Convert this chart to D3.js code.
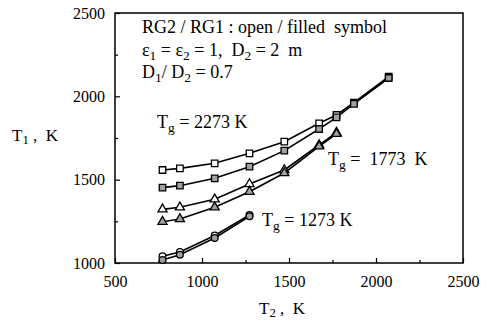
<!DOCTYPE html>
<html>
<head>
<meta charset="utf-8">
<script src="https://cdn.jsdelivr.net/npm/d3@7"></script>
<style>
  body { margin: 0; background: #fff; }
  svg { display: block; font-family: "Liberation Serif", "DejaVu Serif", serif; }
  svg text { white-space: pre; }
</style>
</head>
<body>
<svg id="chart" width="489" height="324"></svg>
<script>
// T2 values (K)
const t2 = [773, 873, 1073, 1273, 1473, 1673, 1773, 1873, 2073];

// T1 values (K) for each Tg, open = RG2, filled = RG1
const tg2273Open   = [1558, 1568, 1598, 1658, 1728, 1838, 1888, 1962, 2118];
const tg2273Filled = [1452, 1464, 1508, 1578, 1674, 1804, 1874, 1955, 2110];
const tg1773Open   = [1322, 1334, 1382, 1474, 1558, 1708, 1782];
const tg1773Filled = [1248, 1264, 1334, 1428, 1540, 1700, 1775];
const tg1273Open   = [1040, 1066, 1165, 1288];
const tg1273Filled = [1018, 1050, 1150, 1280];

const xTicks = [500, 1000, 1500, 2000, 2500];
const yTicks = [1000, 1500, 2000, 2500];

const svg = d3.select("#chart");

const x = d3.scaleLinear().domain([500, 2500]).range([115, 463]);
const y = d3.scaleLinear().domain([1000, 2500]).range([263, 13]);

// frame
svg.append("rect")
  .attr("x", x(500)).attr("y", y(2500))
  .attr("width", x(2500) - x(500))
  .attr("height", y(1000) - y(2500))
  .attr("fill", "none")
  .attr("stroke", "#000")
  .attr("stroke-width", 1.5);

// ticks (inward) + labels
const xAxis = d3.axisBottom(x).tickValues(d3.range(500, 2501, 250))
  .tickSize(-5).tickFormat(d => xTicks.includes(d) ? d : "");
const gx = svg.append("g")
  .attr("transform", `translate(0,${y(1000)})`)
  .call(xAxis);
gx.select(".domain").remove();
gx.selectAll(".tick line").attr("stroke", "#000").attr("stroke-width", 1.2)
  .attr("y2", d => xTicks.includes(d) ? -5 : -3);
gx.selectAll(".tick text").attr("y", 13).attr("dy", "0.71em")
  .style("font-size", "16px").style("font-family", "Liberation Serif").attr("fill", "#000");

const yAxis = d3.axisLeft(y).tickValues(d3.range(1000, 2501, 250))
  .tickSize(-5).tickFormat(d => yTicks.includes(d) ? d : "");
const gy = svg.append("g")
  .attr("transform", `translate(${x(500)},0)`)
  .call(yAxis);
gy.select(".domain").remove();
gy.selectAll(".tick line").attr("stroke", "#000").attr("stroke-width", 1.2)
  .attr("x2", d => yTicks.includes(d) ? 5 : 3);
gy.selectAll(".tick text").attr("x", -10)
  .style("font-size", "16px").style("font-family", "Liberation Serif").attr("fill", "#000");

// series
const series = [
  { vals: tg2273Open,   shape: "square",   filled: false },
  { vals: tg2273Filled, shape: "square",   filled: true },
  { vals: tg1773Open,   shape: "triangle", filled: false },
  { vals: tg1773Filled, shape: "triangle", filled: true },
  { vals: tg1273Open,   shape: "circle",   filled: false },
  { vals: tg1273Filled, shape: "circle",   filled: true }
];

const line = d3.line().x(d => x(d.t2)).y(d => y(d.t1));
const symbols = {
  square: d3.symbol().type(d3.symbolSquare).size(42),
  triangle: d3.symbol().type(d3.symbolTriangle).size(36),
  circle: d3.symbol().type(d3.symbolCircle).size(36)
};

series.forEach(s => {
  const pts = s.vals.map((v, i) => ({ t2: t2[i], t1: v }));
  svg.append("path")
    .datum(pts)
    .attr("d", line)
    .attr("fill", "none")
    .attr("stroke", "#000")
    .attr("stroke-width", 1.6);
  svg.selectAll(null)
    .data(pts)
    .enter()
    .append("path")
    .attr("d", symbols[s.shape])
    .attr("transform", d => `translate(${x(d.t2)},${y(d.t1)})`)
    .attr("fill", s.filled ? "#a0a0a0" : "#fff")
    .attr("stroke", "#000")
    .attr("stroke-width", 1.3);
});

// text helpers
function label(px, py, parts, size) {
  const t = svg.append("text")
    .attr("x", px).attr("y", py)
    .attr("xml:space", "preserve")
    .style("font-size", size + "px")
    .attr("fill", "#000");
  parts.forEach(p => {
    const ts = t.append("tspan").text(p[0]);
    if (p[1] === "sub") ts.attr("baseline-shift", "-25%").style("font-size", (size * 0.75) + "px");
  });
  return t;
}

label(142, 33, [["RG2 / RG1 : open / filled  symbol"]], 18);
label(142, 56, [["ε"], ["1", "sub"], [" = ε"], ["2", "sub"], [" = 1,  D"], ["2", "sub"], [" = 2  m"]], 18);
label(142, 78, [["D"], ["1", "sub"], ["/ D"], ["2", "sub"], [" = 0.7"]], 18);

label(157, 128, [["T"], ["g", "sub"], [" = 2273 K"]], 18);
label(328, 165, [["T"], ["g", "sub"], [" =  1773  K"]], 18);
label(262, 226, [["T"], ["g", "sub"], [" = 1273 K"]], 18);

// axis titles
label(12, 141, [["T"], ["1", "sub"], [" ,  K"]], 17);
label(259, 314, [["T"], ["2", "sub"], [" ,  K"]], 17);
</script>
</body>
</html>
